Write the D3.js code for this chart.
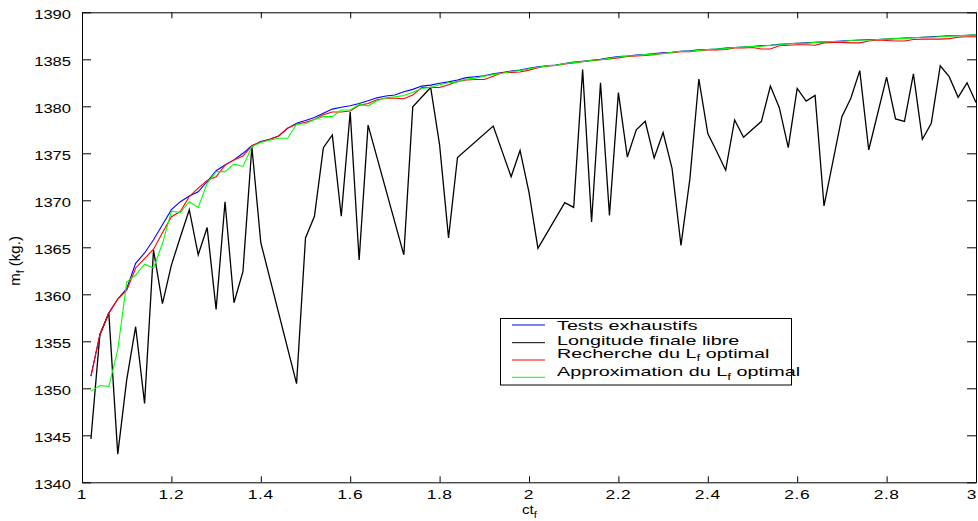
<!DOCTYPE html>
<html>
<head>
<meta charset="utf-8">
<script src="https://cdn.jsdelivr.net/npm/d3@7"></script>
<style>
  html, body { margin: 0; padding: 0; background: #fff; }
  svg { display: block; font-family: "Liberation Sans", Arial, Helvetica, sans-serif; }
</style>
</head>
<body>
<script>
// ---------- data ----------
const ct = [1.02,1.04,1.06,1.08,1.10,1.12,1.14,1.16,1.18,1.20,1.22,1.24,1.26,1.28,1.30,1.32,1.34,1.36,1.38,1.40,
  1.42,1.44,1.46,1.48,1.50,1.52,1.54,1.56,1.58,1.60,1.62,1.64,1.66,1.68,1.70,1.72,1.74,1.76,1.78,1.80,
  1.82,1.84,1.86,1.88,1.90,1.92,1.94,1.96,1.98,2.00,2.02,2.04,2.06,2.08,2.10,2.12,2.14,2.16,2.18,2.20,
  2.22,2.24,2.26,2.28,2.30,2.32,2.34,2.36,2.38,2.40,2.42,2.44,2.46,2.48,2.50,2.52,2.54,2.56,2.58,2.60,
  2.62,2.64,2.66,2.68,2.70,2.72,2.74,2.76,2.78,2.80,2.82,2.84,2.86,2.88,2.90,2.92,2.94,2.96,2.98,3.00];

const testsExhaustifs = [1351.3,1355.7,1358.0,1359.5,1360.6,1363.3,1364.4,1365.8,1367.4,1369.0,
  1369.85,1370.45,1370.9,1372.0,1373.15,1373.75,1374.3,1375.0,1375.8,1376.25,
  1376.5,1376.85,1377.65,1378.2,1378.5,1378.8,1379.25,1379.7,1379.9,1380.05,
  1380.3,1380.6,1380.9,1381.1,1381.2,1381.55,1381.8,1382.15,1382.25,1382.45,
  1382.6,1382.8,1383.05,1383.15,1383.25,1383.45,1383.6,1383.75,1383.85,1384.05,
  1384.2,1384.3,1384.4,1384.55,1384.7,1384.8,1384.9,1385.0,1385.15,1385.3,
  1385.35,1385.45,1385.5,1385.6,1385.7,1385.75,1385.85,1385.9,1386.0,1386.05,
  1386.1,1386.2,1386.25,1386.3,1386.35,1386.45,1386.5,1386.6,1386.65,1386.7,
  1386.75,1386.8,1386.85,1386.9,1386.95,1387.0,1387.05,1387.1,1387.1,1387.15,
  1387.2,1387.25,1387.3,1387.35,1387.4,1387.45,1387.5,1387.5,1387.55,1387.6];

const rechercheLf = [1351.3,1355.7,1358.0,1359.5,1360.4,1362.8,1363.8,1364.8,1366.55,1368.25,
  1368.8,1370.4,1371.3,1372.1,1372.5,1373.75,1374.3,1374.7,1375.8,1376.2,
  1376.5,1376.85,1377.7,1378.1,1378.3,1378.6,1379.1,1379.4,1379.4,1379.5,
  1380.1,1380.3,1380.7,1380.85,1380.85,1380.8,1381.2,1382.0,1382.0,1382.0,
  1382.3,1382.65,1382.8,1382.85,1382.85,1383.2,1383.6,1383.6,1383.65,1383.85,
  1384.1,1384.3,1384.35,1384.5,1384.6,1384.75,1384.85,1384.95,1385.05,1385.15,
  1385.3,1385.35,1385.4,1385.5,1385.65,1385.7,1385.8,1385.8,1385.95,1386.0,
  1386.0,1386.05,1386.2,1386.2,1386.25,1386.1,1386.1,1386.45,1386.5,1386.55,
  1386.55,1386.5,1386.75,1386.8,1386.8,1386.75,1386.75,1386.95,1387.05,1387.0,
  1386.95,1386.95,1387.1,1387.15,1387.15,1387.15,1387.2,1387.35,1387.4,1387.4];

const approximationLf = [1349.7,1350.3,1350.2,1354.1,1361.3,1362.05,1363.2,1362.8,1365.4,1368.85,
  1368.7,1369.85,1369.25,1371.8,1373.05,1373.05,1373.85,1373.6,1375.7,1376.15,
  1376.4,1376.6,1376.6,1378.1,1378.15,1378.6,1378.9,1378.9,1379.6,1379.6,
  1380.2,1380.05,1380.6,1380.9,1381.0,1381.15,1381.5,1381.9,1382.0,1382.3,
  1382.5,1382.6,1382.9,1383.0,1383.2,1383.4,1383.5,1383.7,1383.8,1384.0,
  1384.15,1384.3,1384.35,1384.55,1384.65,1384.75,1384.9,1384.95,1385.1,1385.25,
  1385.35,1385.4,1385.5,1385.55,1385.6,1385.75,1385.85,1385.85,1385.95,1386.05,
  1386.1,1386.15,1386.25,1386.3,1386.35,1386.4,1386.5,1386.55,1386.65,1386.7,
  1386.7,1386.8,1386.85,1386.9,1386.9,1387.0,1387.05,1387.05,1387.1,1387.15,
  1387.2,1387.2,1387.3,1387.35,1387.35,1387.4,1387.45,1387.5,1387.55,1387.6];

// Longitude finale libre (vertices)
const ctLibre = [1.02,1.04,1.06,1.08,1.10,1.12,1.14,1.16,1.18,1.20,1.22,1.24,1.26,1.28,1.30,1.32,1.34,1.36,1.38,1.40,
  1.48,1.50,1.52,1.54,1.56,1.58,1.60,1.62,1.64,1.72,1.74,1.78,1.80,1.82,1.84,1.92,1.96,1.98,2.00,2.02,2.08,
  2.10,2.12,2.14,2.16,2.18,2.20,2.22,2.24,2.26,2.28,2.30,2.32,2.34,2.36,2.38,2.40,2.42,2.44,2.46,2.48,
  2.52,2.54,2.56,2.58,2.60,2.62,2.64,2.66,2.70,2.72,2.74,2.76,2.80,2.82,2.84,2.86,2.88,2.90,2.92,2.94,2.96,2.98,3.00];
const longitudeLibre = [1344.6,1355.7,1358.0,1343.0,1350.9,1356.55,1348.4,1364.7,1359.0,1363.1,1366.1,1369.0,1364.2,1367.1,1358.4,1369.85,1359.1,1362.4,1375.7,1365.5,
  1350.5,1366.0,1368.3,1375.6,1376.95,1368.3,1379.4,1363.65,1378.0,1364.2,1379.95,1382.0,1375.9,1366.0,1374.55,1377.9,1372.5,1375.3,1370.85,1364.9,1369.75,
  1369.25,1383.9,1367.7,1382.5,1368.4,1381.45,1374.6,1377.5,1378.4,1374.5,1377.2,1373.4,1365.2,1372.3,1382.9,1377.1,1375.2,1373.2,1378.55,1376.7,
  1378.4,1382.15,1379.85,1375.6,1381.9,1380.55,1381.15,1369.4,1378.9,1380.85,1383.8,1375.35,1383.1,1378.65,1378.4,1383.45,1376.5,1378.2,1384.3,1383.15,1380.95,1382.5,1380.4];

const xTicks = [1, 1.2, 1.4, 1.6, 1.8, 2, 2.2, 2.4, 2.6, 2.8, 3];
const xTickLabels = ["1","1.2","1.4","1.6","1.8","2","2.2","2.4","2.6","2.8","3"];
const yTicks = [1340,1345,1350,1355,1360,1365,1370,1375,1380,1385,1390];
const yTickLabels = ["1340","1345","1350","1355","1360","1365","1370","1375","1380","1385","1390"];

const seriesNames = ["Tests exhaustifs", "Longitude finale libre", "Recherche du L", "Approximation du L"];
const seriesColors = ["#0000ff", "#000000", "#ff0000", "#00ff00"];

// ---------- layout ----------
const W = 978, H = 521;
const L = 82, R = 976, T = 12.3, B = 482.3;
const svg = d3.select("body").append("svg").attr("width", W).attr("height", H);

const x = d3.scaleLinear().domain([1, 3]).range([L, R]);
const y = d3.scaleLinear().domain([1340, 1390]).range([B, T]);

svg.append("rect").attr("x", L).attr("y", T).attr("width", R - L).attr("height", B - T).attr("fill", "#fff");

// ---------- lines ----------
const line = d3.line().x(d => x(d[0])).y(d => y(d[1]));
const plotG = svg.append("g");
const zipped = (xs, ys) => xs.map((v, i) => [v, ys[i]]);

plotG.append("path").datum(zipped(ct, testsExhaustifs)).attr("d", line)
  .attr("fill", "none").attr("stroke", seriesColors[0]).attr("stroke-width", 1.1);
plotG.append("path").datum(zipped(ctLibre, longitudeLibre)).attr("d", line)
  .attr("fill", "none").attr("stroke", seriesColors[1]).attr("stroke-width", 1.3).attr("stroke-linejoin", "miter");
plotG.append("path").datum(zipped(ct, rechercheLf)).attr("d", line)
  .attr("fill", "none").attr("stroke", seriesColors[2]).attr("stroke-width", 1.1);
plotG.append("path").datum(zipped(ct, approximationLf)).attr("d", line)
  .attr("fill", "none").attr("stroke", seriesColors[3]).attr("stroke-width", 1.1);

// ---------- axes (inner ticks, box) ----------
function styleAxis(g) {
  g.selectAll("path.domain").attr("stroke", "#000").attr("stroke-width", 1);
  g.selectAll(".tick line").attr("stroke", "#000").attr("stroke-width", 1);
  g.selectAll("text").remove();
}
svg.append("g").attr("transform", `translate(0,${B})`)
  .call(d3.axisBottom(x).tickValues(xTicks).tickSizeInner(-6).tickSizeOuter(0)).call(styleAxis);
svg.append("g").attr("transform", `translate(0,${T})`)
  .call(d3.axisTop(x).tickValues(xTicks).tickSizeInner(-6).tickSizeOuter(0)).call(styleAxis);
svg.append("g").attr("transform", `translate(${L},0)`)
  .call(d3.axisLeft(y).tickValues(yTicks).tickSizeInner(-9).tickSizeOuter(0)).call(styleAxis);
svg.append("g").attr("transform", `translate(${R},0)`)
  .call(d3.axisRight(y).tickValues(yTicks).tickSizeInner(-9).tickSizeOuter(0)).call(styleAxis);

// tick labels (the picture's text is stretched horizontally)
const tickSx = 1.38;
svg.append("g").selectAll("g").data(yTicks).join("g")
  .attr("transform", d => `translate(71,${y(d) + 6.3}) scale(${tickSx},1)`)
  .append("text").attr("text-anchor", "end").attr("font-size", 12)
  .text((d, i) => yTickLabels[i]);
svg.append("g").selectAll("g").data(xTicks).join("g")
  .attr("transform", d => `translate(${Math.min(x(d), W - 6)},499.3) scale(1.45,1)`)
  .append("text").attr("text-anchor", "middle").attr("font-size", 12).attr("letter-spacing", 0.4)
  .text((d, i) => xTickLabels[i]);

// x axis label ct_f
const xl = svg.append("g").attr("transform", `translate(${(L + R) / 2 + 0.5},514) scale(1.25,1)`)
  .append("text").attr("text-anchor", "middle").attr("font-size", 12);
xl.append("tspan").text("ct");
xl.append("tspan").attr("font-size", 9).attr("dy", 4).text("f");

// y axis label m_f (kg.)
const yl = svg.append("g").attr("transform", "translate(20,261) rotate(-90)")
  .append("text").attr("text-anchor", "middle").attr("font-size", 15);
yl.append("tspan").text("m");
yl.append("tspan").attr("font-size", 11).attr("dy", 4).text("f");
yl.append("tspan").attr("dy", -4).text(" (kg.)");

// ---------- legend ----------
const lg = svg.append("g");
lg.append("rect").attr("x", 500.5).attr("y", 318.5).attr("width", 291).attr("height", 66.5)
  .attr("fill", "#fff").attr("stroke", "#000").attr("stroke-width", 1);
const lineYs = [325, 342.7, 360, 377.3];
const textYs = [329.5, 344.7, 357.7, 376];
seriesNames.forEach((name, i) => {
  lg.append("line").attr("x1", 512).attr("x2", 545).attr("y1", lineYs[i]).attr("y2", lineYs[i])
    .attr("stroke", seriesColors[i]).attr("stroke-width", 1);
  const t = lg.append("g").attr("transform", `translate(557,${textYs[i]}) scale(1.52,1)`)
    .append("text").attr("font-size", 13);
  t.append("tspan").text(name);
  if (i >= 2) {
    t.append("tspan").attr("font-size", 9).attr("dy", 3.5).text("f");
    t.append("tspan").attr("dy", -3.5).text(" optimal");
  }
});
</script>
</body>
</html>
